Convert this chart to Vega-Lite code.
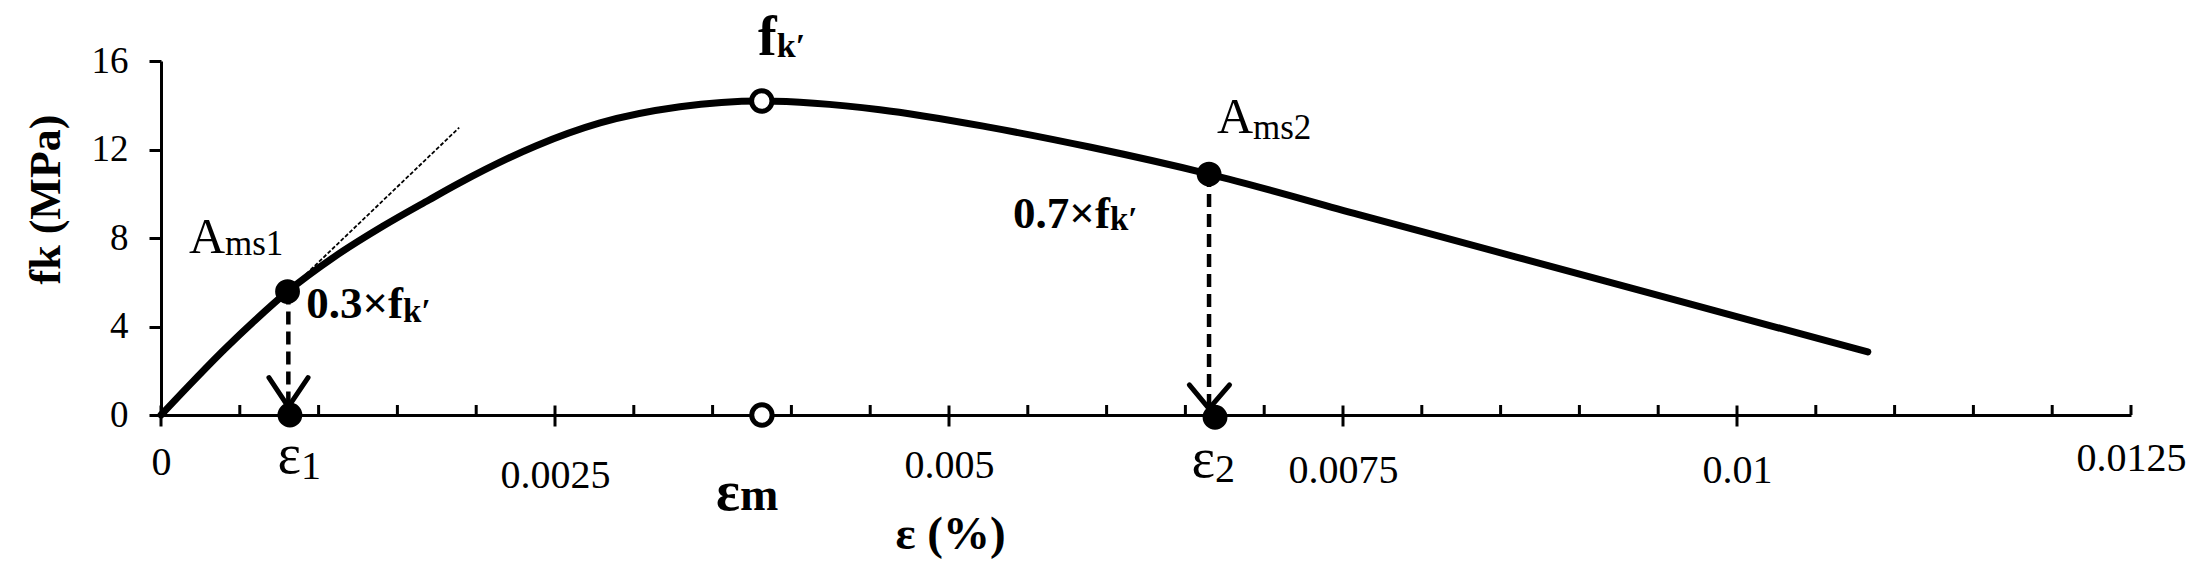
{
  "$schema": "https://vega.github.io/schema/vega-lite/v6.json",
  "width": 1970,
  "height": 354,
  "autosize": "none",
  "padding": {"left": 161, "top": 61, "right": 64, "bottom": 157},
  "background": "white",
  "config": {"view": {"stroke": null}, "font": "Liberation Serif"},
  "datasets": {
    "curve": [
      {"x": 0, "y": 0}, {"x": 0.0002, "y": 1.5}, {"x": 0.0004, "y": 2.95}, {"x": 0.0006, "y": 4.3},
      {"x": 0.000803, "y": 5.58}, {"x": 0.0011, "y": 7.15}, {"x": 0.001407, "y": 8.53},
      {"x": 0.0017, "y": 9.72}, {"x": 0.001892, "y": 10.48}, {"x": 0.002378, "y": 12.16},
      {"x": 0.002786, "y": 13.2}, {"x": 0.003293, "y": 13.93}, {"x": 0.003812, "y": 14.19},
      {"x": 0.004562, "y": 13.8}, {"x": 0.00526, "y": 13.0}, {"x": 0.0059, "y": 12.1},
      {"x": 0.00665, "y": 10.89}, {"x": 0.0076, "y": 9.06}, {"x": 0.0086, "y": 7.14},
      {"x": 0.0097, "y": 5.02}, {"x": 0.01083, "y": 2.85}
    ],
    "tangent": [{"x": 0.000893, "y": 6.18, "x2": 0.001892, "y2": 12.99}],
    "drops": [
      {"x": 0.000808, "y": 5.58, "y2": 0.37},
      {"x": 0.00665, "y": 10.89, "y2": 0.29}
    ],
    "arms": [
      {"x": 0.000685, "y": 1.69, "x2": 0.000808, "y2": 0.37},
      {"x": 0.000933, "y": 1.69, "x2": 0.000808, "y2": 0.37},
      {"x": 0.006525, "y": 1.36, "x2": 0.00665, "y2": 0.29},
      {"x": 0.00678, "y": 1.36, "x2": 0.00665, "y2": 0.29}
    ],
    "xticks": [
      {"x": 0, "y": 0, "kind": "major"}, {"x": 0.0005, "y": 0, "kind": "minor"}, {"x": 0.001, "y": 0, "kind": "minor"},
      {"x": 0.0015, "y": 0, "kind": "minor"}, {"x": 0.002, "y": 0, "kind": "minor"}, {"x": 0.0025, "y": 0, "kind": "major"},
      {"x": 0.003, "y": 0, "kind": "minor"}, {"x": 0.0035, "y": 0, "kind": "minor"}, {"x": 0.004, "y": 0, "kind": "minor"},
      {"x": 0.0045, "y": 0, "kind": "minor"}, {"x": 0.005, "y": 0, "kind": "major"}, {"x": 0.0055, "y": 0, "kind": "minor"},
      {"x": 0.006, "y": 0, "kind": "minor"}, {"x": 0.0065, "y": 0, "kind": "minor"}, {"x": 0.007, "y": 0, "kind": "minor"},
      {"x": 0.0075, "y": 0, "kind": "major"}, {"x": 0.008, "y": 0, "kind": "minor"}, {"x": 0.0085, "y": 0, "kind": "minor"},
      {"x": 0.009, "y": 0, "kind": "minor"}, {"x": 0.0095, "y": 0, "kind": "minor"}, {"x": 0.01, "y": 0, "kind": "major"},
      {"x": 0.0105, "y": 0, "kind": "minor"}, {"x": 0.011, "y": 0, "kind": "minor"}, {"x": 0.0115, "y": 0, "kind": "minor"},
      {"x": 0.012, "y": 0, "kind": "minor"}, {"x": 0.0125, "y": 0, "kind": "minor"}
    ],
    "filled": [
      {"x": 0.000803, "y": 5.58}, {"x": 0.000818, "y": 0},
      {"x": 0.00665, "y": 10.89}, {"x": 0.006688, "y": -0.1}
    ],
    "open": [{"x": 0.003812, "y": 14.19}, {"x": 0.003813, "y": 0}],
    "labels": [
      {"x": 0.000406, "y": 7.34, "t": "A", "kind": "A"},
      {"x": 0.000406, "y": 7.23, "t": "ms1", "kind": "Asub"},
      {"x": 0.006929, "y": 12.75, "t": "A", "kind": "A"},
      {"x": 0.006929, "y": 12.47, "t": "ms2", "kind": "Asub"},
      {"x": 0.000888, "y": -2.62, "t": "ε", "kind": "eps"},
      {"x": 0.000888, "y": -2.89, "t": "1", "kind": "epssub"},
      {"x": 0.006688, "y": -2.8, "t": "ε", "kind": "eps"},
      {"x": 0.006688, "y": -3.03, "t": "2", "kind": "epssub"},
      {"x": 0.001536, "y": 4.37, "t": "0.3×f", "kind": "coef"},
      {"x": 0.001536, "y": 4.22, "t": "k′", "kind": "coefsub"},
      {"x": 0.006021, "y": 8.45, "t": "0.7×f", "kind": "coef"},
      {"x": 0.006021, "y": 8.36, "t": "k′", "kind": "coefsub"},
      {"x": 0.003907, "y": 16.27, "t": "f", "kind": "big"},
      {"x": 0.003907, "y": 16.19, "t": "k′", "kind": "peaksub"},
      {"x": 0.003674, "y": -4.29, "t": "ε", "kind": "big"},
      {"x": 0.003674, "y": -4.29, "t": "m", "kind": "epsmsub"}
    ]
  },
  "encoding": {
    "x": {
      "field": "x", "type": "quantitative",
      "scale": {"domain": [0, 0.0125], "nice": false, "zero": false},
      "axis": {
        "values": [0, 0.0025, 0.005, 0.0075, 0.01, 0.0125],
        "labelExpr": "'' + datum.value",
        "grid": false, "ticks": false, "tickSize": 0,
        "domainColor": "black", "domainWidth": 3,
        "labelFont": "Liberation Serif", "labelFontSize": 40, "labelColor": "black",
        "labelFlush": false, "labelOverlap": false,
        "labelPadding": {
          "condition": [
            {"test": "datum.value < 0.001", "value": 27},
            {"test": "datum.value > 0.002 && datum.value < 0.003", "value": 40},
            {"test": "datum.value > 0.004 && datum.value < 0.006", "value": 30},
            {"test": "datum.value > 0.012", "value": 23}
          ],
          "value": 35
        },
        "title": "ε (%)",
        "titleFont": "Liberation Serif", "titleFontSize": 47, "titleFontWeight": "bold", "titleColor": "black",
        "titleX": 789, "titleY": 133, "titleBaseline": "alphabetic", "titleAlign": "center"
      }
    },
    "y": {
      "field": "y", "type": "quantitative",
      "scale": {"domain": [0, 16], "nice": false},
      "axis": {
        "values": [0, 4, 8, 12, 16],
        "grid": false,
        "tickSize": 12, "tickWidth": 3, "tickColor": "black",
        "domainColor": "black", "domainWidth": 3,
        "labelFont": "Liberation Serif", "labelFontSize": 37, "labelColor": "black", "labelPadding": 21,
        "title": "fk (MPa)",
        "titleFont": "Liberation Serif", "titleFontSize": 44, "titleFontWeight": "bold", "titleColor": "black",
        "titleAngle": 270, "titleX": -115, "titleY": 138, "titleBaseline": "middle", "titleAlign": "center"
      }
    }
  },
  "layer": [
    {
      "data": {"name": "tangent"},
      "mark": {"type": "rule", "color": "black", "strokeWidth": 1.8, "strokeDash": [4, 2]},
      "encoding": {"x2": {"field": "x2"}, "y2": {"field": "y2"}}
    },
    {
      "data": {"name": "curve"},
      "mark": {"type": "line", "color": "black", "strokeWidth": 7, "interpolate": "monotone", "strokeCap": "round"},
      "encoding": {}
    },
    {
      "data": {"name": "drops"},
      "mark": {"type": "rule", "color": "black", "strokeWidth": 4.5, "strokeDash": [13, 7]},
      "encoding": {"y2": {"field": "y2"}}
    },
    {
      "data": {"name": "arms"},
      "mark": {"type": "rule", "color": "black", "strokeWidth": 5, "strokeCap": "round"},
      "encoding": {"x2": {"field": "x2"}, "y2": {"field": "y2"}}
    },
    {
      "data": {"name": "xticks"},
      "transform": [{"filter": "datum.kind == 'major'"}],
      "mark": {"type": "tick", "orient": "vertical", "size": 21, "thickness": 3, "color": "black", "yOffset": 1, "opacity": 1}
    },
    {
      "data": {"name": "xticks"},
      "transform": [{"filter": "datum.kind == 'minor'"}],
      "mark": {"type": "tick", "orient": "vertical", "size": 10, "thickness": 3, "color": "black", "yOffset": -5, "opacity": 1}
    },
    {
      "data": {"name": "filled"},
      "mark": {"type": "circle", "size": 616, "color": "black", "opacity": 1}
    },
    {
      "data": {"name": "open"},
      "mark": {"type": "point", "shape": "circle", "size": 415, "filled": true, "fill": "white", "stroke": "black", "strokeWidth": 5, "opacity": 1}
    },
    {
      "data": {"name": "labels"},
      "transform": [{"filter": "datum.kind == 'A'"}],
      "mark": {"type": "text", "align": "right", "baseline": "alphabetic", "font": "Liberation Serif", "fontSize": 50, "color": "black"},
      "encoding": {"text": {"field": "t"}}
    },
    {
      "data": {"name": "labels"},
      "transform": [{"filter": "datum.kind == 'Asub'"}],
      "mark": {"type": "text", "align": "left", "baseline": "alphabetic", "font": "Liberation Serif", "fontSize": 35, "color": "black"},
      "encoding": {"text": {"field": "t"}}
    },
    {
      "data": {"name": "labels"},
      "transform": [{"filter": "datum.kind == 'eps'"}],
      "mark": {"type": "text", "align": "right", "baseline": "alphabetic", "font": "Liberation Serif", "fontSize": 56, "color": "black"},
      "encoding": {"text": {"field": "t"}}
    },
    {
      "data": {"name": "labels"},
      "transform": [{"filter": "datum.kind == 'epssub'"}],
      "mark": {"type": "text", "align": "left", "baseline": "alphabetic", "font": "Liberation Serif", "fontSize": 40, "color": "black"},
      "encoding": {"text": {"field": "t"}}
    },
    {
      "data": {"name": "labels"},
      "transform": [{"filter": "datum.kind == 'coef'"}],
      "mark": {"type": "text", "align": "right", "baseline": "alphabetic", "font": "Liberation Serif", "fontWeight": "bold", "fontSize": 45, "color": "black"},
      "encoding": {"text": {"field": "t"}}
    },
    {
      "data": {"name": "labels"},
      "transform": [{"filter": "datum.kind == 'coefsub'"}],
      "mark": {"type": "text", "align": "left", "baseline": "alphabetic", "font": "Liberation Serif", "fontWeight": "bold", "fontSize": 33, "color": "black"},
      "encoding": {"text": {"field": "t"}}
    },
    {
      "data": {"name": "labels"},
      "transform": [{"filter": "datum.kind == 'big'"}],
      "mark": {"type": "text", "align": "right", "baseline": "alphabetic", "font": "Liberation Serif", "fontWeight": "bold", "fontSize": 56, "color": "black"},
      "encoding": {"text": {"field": "t"}}
    },
    {
      "data": {"name": "labels"},
      "transform": [{"filter": "datum.kind == 'peaksub'"}],
      "mark": {"type": "text", "align": "left", "baseline": "alphabetic", "font": "Liberation Serif", "fontWeight": "bold", "fontSize": 34, "color": "black"},
      "encoding": {"text": {"field": "t"}}
    },
    {
      "data": {"name": "labels"},
      "transform": [{"filter": "datum.kind == 'epsmsub'"}],
      "mark": {"type": "text", "align": "left", "baseline": "alphabetic", "font": "Liberation Serif", "fontWeight": "bold", "fontSize": 46, "color": "black"},
      "encoding": {"text": {"field": "t"}}
    }
  ]
}
